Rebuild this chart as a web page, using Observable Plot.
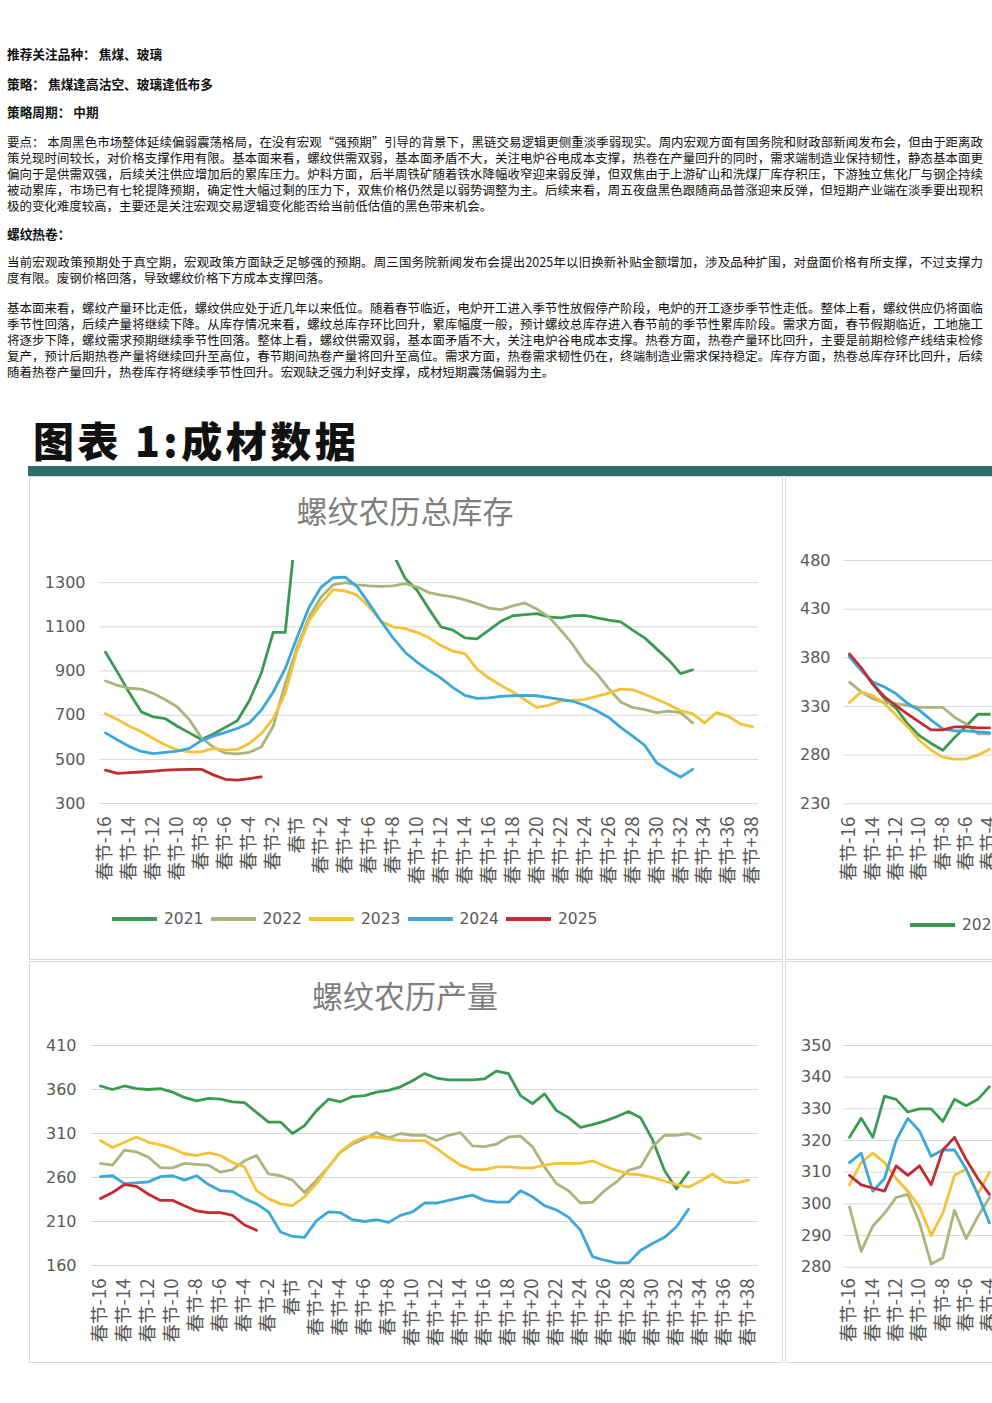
<!DOCTYPE html>
<html lang="zh-CN">
<head>
<meta charset="utf-8">
<script src="https://cdn.jsdelivr.net/npm/d3@7"></script>
<script src="https://cdn.jsdelivr.net/npm/@observablehq/plot@0.6"></script>
<style>
  html, body { margin: 0; padding: 0; width: 992px; height: 1403px; overflow: hidden; background: #fff; }
  #page { position: relative; width: 992px; height: 1403px; overflow: hidden; font-family: "Noto Sans CJK SC", sans-serif; color: #111; }
  .ln { position: absolute; left: 7px; width: 976px; height: 15px; font-size: 12.45px; line-height: 15px; white-space: nowrap; }
  .j { text-align: justify; text-align-last: justify; }
  .b { font-weight: bold; font-size: 12.7px; }
  #bigTitle { position: absolute; left: 33px; top: 414px; font-size: 41px; line-height: 50px; font-weight: 900; letter-spacing: 3.5px; color: #111; white-space: nowrap; }
  #band { position: absolute; left: 28px; top: 466px; width: 964px; height: 10px; background: #2f6a6c; }
  .panel { position: absolute; border: 1px solid #d9d9d9; box-sizing: border-box; background: #fff; }
  .ctitle { position: absolute; font-size: 31px; line-height: 36px; color: #7f7f7f; white-space: nowrap; transform: translateX(-50%); }
  .chart { position: absolute; left: 0; width: 1600px; }
  .chart svg { overflow: visible; max-width: none !important; }
  .legend { position: absolute; display: flex; white-space: nowrap; font-family: "DejaVu Sans", sans-serif; font-size: 15.5px; color: #595959; }
  .legend .item { display: flex; align-items: center; width: 98.5px; }
  .legend .sw { width: 45px; height: 4px; margin-right: 7px; }
</style>
</head>
<body>
<div id="page">
  <div class="ln b" style="top:46px">推荐关注品种： 焦煤、玻璃</div>
  <div class="ln b" style="top:76px">策略： 焦煤逢高沽空、玻璃逢低布多</div>
  <div class="ln b" style="top:104px">策略周期： 中期</div>

  <div class="ln j" style="top:135px">要点： 本周黑色市场整体延续偏弱震荡格局，在没有宏观“强预期”引导的背景下，黑链交易逻辑更侧重淡季弱现实。周内宏观方面有国务院和财政部新闻发布会，但由于距离政</div>
  <div class="ln j" style="top:151px">策兑现时间较长，对价格支撑作用有限。基本面来看，螺纹供需双弱，基本面矛盾不大，关注电炉谷电成本支撑，热卷在产量回升的同时，需求端制造业保持韧性，静态基本面更</div>
  <div class="ln j" style="top:167px">偏向于是供需双强，后续关注供应增加后的累库压力。炉料方面，后半周铁矿随着铁水降幅收窄迎来弱反弹，但双焦由于上游矿山和洗煤厂库存积压，下游独立焦化厂与钢企持续</div>
  <div class="ln j" style="top:183px">被动累库，市场已有七轮提降预期，确定性大幅过剩的压力下，双焦价格仍然是以弱势调整为主。后续来看，周五夜盘黑色跟随商品普涨迎来反弹，但短期产业端在淡季要出现积</div>
  <div class="ln" style="top:199px">极的变化难度较高，主要还是关注宏观交易逻辑变化能否给当前低估值的黑色带来机会。</div>

  <div class="ln b" style="top:226px">螺纹热卷：</div>

  <div class="ln j" style="top:255px">当前宏观政策预期处于真空期，宏观政策方面缺乏足够强的预期。周三国务院新闻发布会提出2025年以旧换新补贴金额增加，涉及品种扩围，对盘面价格有所支撑，不过支撑力</div>
  <div class="ln" style="top:271px">度有限。废钢价格回落，导致螺纹价格下方成本支撑回落。</div>

  <div class="ln j" style="top:301px">基本面来看，螺纹产量环比走低，螺纹供应处于近几年以来低位。随着春节临近，电炉开工进入季节性放假停产阶段，电炉的开工逐步季节性走低。整体上看，螺纹供应仍将面临</div>
  <div class="ln j" style="top:317px">季节性回落，后续产量将继续下降。从库存情况来看，螺纹总库存环比回升，累库幅度一般，预计螺纹总库存进入春节前的季节性累库阶段。需求方面，春节假期临近，工地施工</div>
  <div class="ln j" style="top:333px">将逐步下降，螺纹需求预期继续季节性回落。整体上看，螺纹供需双弱，基本面矛盾不大，关注电炉谷电成本支撑。热卷方面，热卷产量环比回升，主要是前期检修产线结束检修</div>
  <div class="ln j" style="top:349px">复产，预计后期热卷产量将继续回升至高位，春节期间热卷产量将回升至高位。需求方面，热卷需求韧性仍在，终端制造业需求保持稳定。库存方面，热卷总库存环比回升，后续</div>
  <div class="ln" style="top:365px">随着热卷产量回升，热卷库存将继续季节性回升。宏观缺乏强力利好支撑，成材短期震荡偏弱为主。</div>

  <div id="bigTitle">图表 1:成材数据</div>

  <div class="panel" style="left:29px; top:476px; width:754px; height:484px"></div>
  <div class="panel" style="left:785px; top:476px; width:400px; height:484px"></div>
  <div class="panel" style="left:29px; top:961px; width:754px; height:402px"></div>
  <div class="panel" style="left:785px; top:961px; width:400px; height:402px"></div>
  <div id="band"></div>

  <div class="ctitle" style="left:405px; top:492px">螺纹农历总库存</div>
  <div class="ctitle" style="left:405px; top:977px">螺纹农历产量</div>

  <div class="chart" id="c1"></div>
  <div class="chart" id="c2"></div>
  <div class="chart" id="c3"></div>
  <div class="chart" id="c4"></div>

  <div class="legend" id="lg1" style="left:112px; top:910px"></div>
  <div class="legend" id="lg2" style="left:910px; top:916px"></div>
</div>

<script>
// Lunar-calendar week offsets around Spring Festival (春节)
const weekLabels = [
  "春节-16","春节-15","春节-14","春节-13","春节-12","春节-11","春节-10","春节-9",
  "春节-8","春节-7","春节-6","春节-5","春节-4","春节-3","春节-2","春节-1","春节",
  "春节+1","春节+2","春节+3","春节+4","春节+5","春节+6","春节+7","春节+8","春节+9",
  "春节+10","春节+11","春节+12","春节+13","春节+14","春节+15","春节+16","春节+17",
  "春节+18","春节+19","春节+20","春节+21","春节+22","春节+23","春节+24","春节+25",
  "春节+26","春节+27","春节+28","春节+29","春节+30","春节+31","春节+32","春节+33",
  "春节+34","春节+35","春节+36","春节+37","春节+38"
];
const tickWeeks = [
  "春节-16","春节-14","春节-12","春节-10","春节-8","春节-6","春节-4","春节-2","春节",
  "春节+2","春节+4","春节+6","春节+8","春节+10","春节+12","春节+14","春节+16","春节+18",
  "春节+20","春节+22","春节+24","春节+26","春节+28","春节+30","春节+32","春节+34",
  "春节+36","春节+38"
];
const years = ["2021", "2022", "2023", "2024", "2025"];
const yearColors = ["#3b9a52", "#aab57c", "#f3c237", "#3ba7da", "#c22b2f"];

// 螺纹农历总库存 (万吨)
const rebarStock2021 = [985, 895, 800, 715, 692, 684, 650, 620, 590, 615, 645, 675, 765, 890, 1075, 1075, 1600, 1800, 1950, 2050, 2100, 2050, 1900, 1650, 1430, 1320, 1265, 1180, 1100, 1085, 1050, 1045, 1085, 1125, 1150, 1155, 1160, 1145, 1140, 1150, 1152, 1140, 1130, 1122, 1085, 1050, 1000, 950, 888, 905];
const rebarStock2022 = [855, 835, 822, 818, 798, 770, 737, 680, 598, 556, 528, 525, 532, 556, 650, 843, 1009, 1144, 1235, 1290, 1300, 1290, 1285, 1283, 1285, 1295, 1280, 1255, 1243, 1235, 1222, 1205, 1185, 1178, 1195, 1208, 1180, 1145, 1085, 1020, 940, 888, 820, 760, 735, 725, 712, 718, 712, 665];
const rebarStock2023 = [707, 680, 650, 625, 595, 565, 543, 534, 534, 550, 542, 545, 572, 617, 685, 800, 994, 1129, 1205, 1268, 1262, 1243, 1190, 1125, 1100, 1092, 1075, 1050, 1015, 990, 979, 910, 868, 835, 805, 770, 735, 745, 765, 767, 772, 785, 800, 818, 815, 795, 772, 748, 720, 707, 665, 712, 695, 660, 648];
const rebarStock2024 = [620, 588, 558, 536, 526, 532, 537, 550, 585, 605, 622, 640, 665, 722, 805, 911, 1054, 1190, 1280, 1322, 1325, 1282, 1205, 1125, 1050, 985, 940, 902, 868, 825, 790, 776, 778, 785, 788, 790, 788, 780, 772, 763, 745, 720, 690, 645, 605, 564, 485, 450, 420, 455];
const rebarStock2025 = [451, 437, 440, 443, 447, 451, 454, 455, 455, 430, 410, 406, 413, 421];

// 热卷农历总库存 (万吨)
const coilStock2021 = [382, 369, 353, 338, 328, 312, 300, 292, 285, 298, 310, 322, 322];
const coilStock2022 = [355, 345, 338, 334, 333, 331, 329, 329, 329, 319, 312, 302, 302];
const coilStock2023 = [334, 345, 341, 333, 321, 309, 295, 285, 278, 276, 276, 280, 286];
const coilStock2024 = [381, 367, 355, 350, 343, 333, 326, 316, 307, 305, 305, 304, 303];
const coilStock2025 = [384, 370, 353, 340, 331, 322, 314, 306, 306, 309, 309, 308, 308];

// 螺纹农历产量 (万吨)
const rebarOutput2021 = [364, 360, 364, 361, 360, 361, 357, 351, 347, 350, 349, 346, 345, 334, 323, 323, 310, 319, 336, 349, 346, 352, 353, 357, 359, 363, 370, 378, 373, 371, 371, 371, 372, 381, 378, 353, 344, 355, 336, 328, 317, 320, 324, 329, 335, 328, 303, 268, 247, 266];
const rebarOutput2022 = [276, 274, 291, 289, 283, 271, 271, 276, 275, 274, 266, 269, 279, 285, 264, 262, 257, 243, 257, 272, 289, 298, 304, 311, 305, 310, 308, 308, 302, 308, 311, 296, 295, 298, 306, 307, 295, 272, 253, 245, 231, 232, 245, 255, 268, 272, 295, 308, 308, 310, 304];
const rebarOutput2023 = [302, 294, 300, 306, 300, 297, 293, 287, 285, 288, 285, 277, 272, 245, 236, 230, 228, 238, 253, 272, 289, 300, 306, 306, 304, 302, 302, 302, 293, 283, 274, 269, 269, 272, 272, 271, 271, 274, 276, 276, 276, 279, 273, 268, 264, 263, 260, 256, 252, 249, 256, 264, 255, 254, 257];
const rebarOutput2024 = [261, 262, 253, 254, 255, 261, 262, 257, 262, 252, 245, 244, 236, 230, 221, 198, 193, 192, 211, 221, 220, 212, 210, 212, 209, 217, 221, 231, 231, 234, 237, 240, 234, 232, 232, 245, 238, 228, 223, 215, 200, 170, 166, 163, 163, 177, 185, 192, 204, 224];
const rebarOutput2025 = [236, 243, 252, 250, 241, 234, 234, 228, 222, 220, 220, 217, 206, 200];

// 热卷农历产量 (万吨)
const coilOutput2021 = [321, 327, 321, 334, 333, 329, 330, 330, 326, 333, 331, 333, 337];
const coilOutput2022 = [299, 285, 293, 297, 302, 303, 294, 281, 283, 298, 289, 296, 302];
const coilOutput2023 = [306, 313, 316, 313, 308, 304, 299, 290, 297, 309, 311, 303, 310];
const coilOutput2024 = [313, 316, 304, 308, 320, 327, 323, 315, 317, 317, 311, 303, 294];
const coilOutput2025 = [309, 306, 305, 304, 312, 309, 312, 306, 317, 321, 314, 308, 303];

const rebarStockTicks = [300, 500, 700, 900, 1100, 1300];
const coilStockTicks = [230, 280, 330, 380, 430, 480];
const rebarOutputTicks = [160, 210, 260, 310, 360, 410];
const coilOutputTicks = [280, 290, 300, 310, 320, 330, 340, 350];

function toRows(seriesList) {
  const rows = [];
  seriesList.forEach((values, s) => {
    values.forEach((v, i) => rows.push({week: weekLabels[i], year: years[s], value: v}));
  });
  return rows;
}

function seasonalChart(el, cfg) {
  const mTop = 24, mBottom = 110, mRight = 20;
  const svgTop = cfg.frameTop - mTop;
  const chart = Plot.plot({
    width: cfg.frameRight + mRight,
    height: (cfg.frameBottom - cfg.frameTop) + mTop + mBottom,
    marginLeft: cfg.frameLeft,
    marginRight: mRight,
    marginTop: mTop,
    marginBottom: mBottom,
    style: {background: "transparent", fontFamily: "'Noto Sans CJK SC', sans-serif", overflow: "visible", maxWidth: "none"},
    x: {type: "point", domain: weekLabels, padding: 0, insetLeft: cfg.inset[0], insetRight: cfg.inset[1]},
    y: {domain: cfg.yDomain},
    color: {domain: years, range: yearColors},
    marks: [
      Plot.gridY(cfg.yTicks, {stroke: "#d9d9d9", strokeOpacity: 1, strokeWidth: 1}),
      Plot.axisY(cfg.yTicks, {tickSize: 0, tickPadding: cfg.yPad, tickFormat: d => String(d), fontSize: 16, fill: "#595959", fontFamily: "'DejaVu Sans', sans-serif", label: null}),
      Plot.axisX(tickWeeks, {tickSize: 0, tickPadding: cfg.xPad, tickRotate: -90, fontSize: 18.5, fill: "#595959", label: null}),
      Plot.lineY(toRows(cfg.series), {x: "week", y: "value", stroke: "year", z: "year", strokeWidth: 2.8, clip: true})
    ]
  });
  el.style.top = svgTop + "px";
  el.appendChild(chart);
}

seasonalChart(document.getElementById("c1"), {
  frameLeft: 99, frameRight: 758, frameTop: 560.2, frameBottom: 803.3, inset: [6, 6],
  yDomain: [300, 1400], yTicks: rebarStockTicks, yPad: 14, xPad: 13,
  series: [rebarStock2021, rebarStock2022, rebarStock2023, rebarStock2024, rebarStock2025]
});
seasonalChart(document.getElementById("c2"), {
  frameLeft: 843, frameRight: 1485, frameTop: 560, frameBottom: 803.3, inset: [6, 6],
  yDomain: [230, 480], yTicks: coilStockTicks, yPad: 13, xPad: 13,
  series: [coilStock2021, coilStock2022, coilStock2023, coilStock2024, coilStock2025]
});
seasonalChart(document.getElementById("c3"), {
  frameLeft: 91, frameRight: 758, frameTop: 1045, frameBottom: 1265, inset: [4, 6],
  yDomain: [160, 410], yTicks: rebarOutputTicks, yPad: 15, xPad: 13,
  series: [rebarOutput2021, rebarOutput2022, rebarOutput2023, rebarOutput2024, rebarOutput2025]
});
seasonalChart(document.getElementById("c4"), {
  frameLeft: 843, frameRight: 1485, frameTop: 1045, frameBottom: 1266.7, inset: [6, 6],
  yDomain: [280, 350], yTicks: coilOutputTicks, yPad: 12, xPad: 11,
  series: [coilOutput2021, coilOutput2022, coilOutput2023, coilOutput2024, coilOutput2025]
});

function legend(el) {
  years.forEach((y, i) => {
    const item = document.createElement("div");
    item.className = "item";
    const sw = document.createElement("span");
    sw.className = "sw";
    sw.style.background = yearColors[i];
    const tx = document.createElement("span");
    tx.textContent = y;
    item.appendChild(sw);
    item.appendChild(tx);
    el.appendChild(item);
  });
}
legend(document.getElementById("lg1"));
legend(document.getElementById("lg2"));
</script>
</body>
</html>
